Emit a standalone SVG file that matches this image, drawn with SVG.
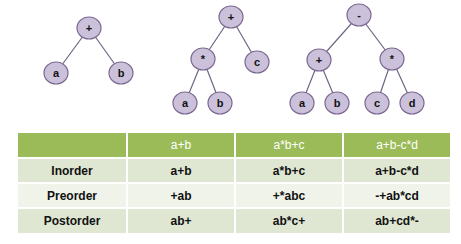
<svg xmlns="http://www.w3.org/2000/svg" width="461" height="244" viewBox="0 0 461 244">
<style>
.n{fill:#ccc1da;stroke:#7a6890;stroke-width:1.2}
.e{stroke:#6f6585;stroke-width:1.2}
.t{font-family:"Liberation Sans",Arial,sans-serif;font-size:11px;font-weight:bold;fill:#111;text-anchor:middle}
.c{font-family:"Liberation Sans",Arial,sans-serif;font-size:12px;font-weight:bold;fill:#111;text-anchor:middle}
.h{font-family:"Liberation Sans",Arial,sans-serif;font-size:12px;fill:#fff;text-anchor:middle}
</style>
<rect width="461" height="244" fill="#fff"/>
<g id="connectors">
<line class="e" x1="89" y1="28" x2="56" y2="73"/>
<line class="e" x1="89" y1="28" x2="121" y2="73"/>
<line class="e" x1="231" y1="17" x2="203" y2="59"/>
<line class="e" x1="231" y1="17" x2="257" y2="62"/>
<line class="e" x1="203" y1="59" x2="185" y2="103"/>
<line class="e" x1="203" y1="59" x2="220" y2="103"/>
<line class="e" x1="359" y1="15" x2="319" y2="60"/>
<line class="e" x1="359" y1="15" x2="392" y2="59"/>
<line class="e" x1="319" y1="60" x2="302" y2="103"/>
<line class="e" x1="319" y1="60" x2="337" y2="103"/>
<line class="e" x1="392" y1="59" x2="377" y2="103"/>
<line class="e" x1="392" y1="59" x2="412" y2="103"/>
</g>
<g id="t1-plus"><ellipse class="n" cx="89" cy="28" rx="12" ry="11"/><text class="t" x="89" y="32">+</text></g>
<g id="t1-a"><ellipse class="n" cx="56" cy="73" rx="12" ry="11"/><text class="t" x="56" y="77">a</text></g>
<g id="t1-b"><ellipse class="n" cx="121" cy="73" rx="12" ry="11"/><text class="t" x="121" y="77">b</text></g>
<g id="t2-plus"><ellipse class="n" cx="231" cy="17" rx="12" ry="11"/><text class="t" x="231" y="21">+</text></g>
<g id="t2-mul"><ellipse class="n" cx="203" cy="59" rx="12" ry="11"/><text class="t" x="203" y="63">*</text></g>
<g id="t2-c"><ellipse class="n" cx="257" cy="62" rx="12" ry="11"/><text class="t" x="257" y="66">c</text></g>
<g id="t2-a"><ellipse class="n" cx="185" cy="103" rx="12" ry="11"/><text class="t" x="185" y="107">a</text></g>
<g id="t2-b"><ellipse class="n" cx="220" cy="103" rx="12" ry="11"/><text class="t" x="220" y="107">b</text></g>
<g id="t3-minus"><ellipse class="n" cx="359" cy="15" rx="12" ry="11"/><text class="t" x="359" y="19">-</text></g>
<g id="t3-plus"><ellipse class="n" cx="319" cy="60" rx="12" ry="11"/><text class="t" x="319" y="64">+</text></g>
<g id="t3-mul"><ellipse class="n" cx="392" cy="59" rx="12" ry="11"/><text class="t" x="392" y="63">*</text></g>
<g id="t3-a"><ellipse class="n" cx="302" cy="103" rx="12" ry="11"/><text class="t" x="302" y="107">a</text></g>
<g id="t3-b"><ellipse class="n" cx="337" cy="103" rx="12" ry="11"/><text class="t" x="337" y="107">b</text></g>
<g id="t3-c"><ellipse class="n" cx="377" cy="103" rx="12" ry="11"/><text class="t" x="377" y="107">c</text></g>
<g id="t3-d"><ellipse class="n" cx="412" cy="103" rx="12" ry="11"/><text class="t" x="412" y="107">d</text></g>
<g id="table">
<rect x="18" y="133" width="108" height="24" fill="#9bbb59"/>
<rect x="128" y="133" width="106" height="24" fill="#9bbb59"/>
<rect x="236" y="133" width="106" height="24" fill="#9bbb59"/>
<rect x="344" y="133" width="106" height="24" fill="#9bbb59"/>
<g fill="#dfe7d3">
<rect x="18" y="159" width="108" height="23"/><rect x="128" y="159" width="106" height="23"/><rect x="236" y="159" width="106" height="23"/><rect x="344" y="159" width="106" height="23"/>
<rect x="18" y="209" width="108" height="24"/><rect x="128" y="209" width="106" height="24"/><rect x="236" y="209" width="106" height="24"/><rect x="344" y="209" width="106" height="24"/>
</g>
<g fill="#eff3ea">
<rect x="18" y="184" width="108" height="23"/><rect x="128" y="184" width="106" height="23"/><rect x="236" y="184" width="106" height="23"/><rect x="344" y="184" width="106" height="23"/>
</g>
<text class="h" x="181" y="149">a+b</text>
<text class="h" x="289" y="149">a*b+c</text>
<text class="h" x="397" y="149">a+b-c*d</text>
<text class="c" x="72" y="175">Inorder</text>
<text class="c" x="181" y="175">a+b</text>
<text class="c" x="289" y="175">a*b+c</text>
<text class="c" x="397" y="175">a+b-c*d</text>
<text class="c" x="72" y="200">Preorder</text>
<text class="c" x="181" y="200">+ab</text>
<text class="c" x="289" y="200">+*abc</text>
<text class="c" x="397" y="200">-+ab*cd</text>
<text class="c" x="72" y="225">Postorder</text>
<text class="c" x="181" y="225">ab+</text>
<text class="c" x="289" y="225">ab*c+</text>
<text class="c" x="397" y="225">ab+cd*-</text>
</g>
</svg>
